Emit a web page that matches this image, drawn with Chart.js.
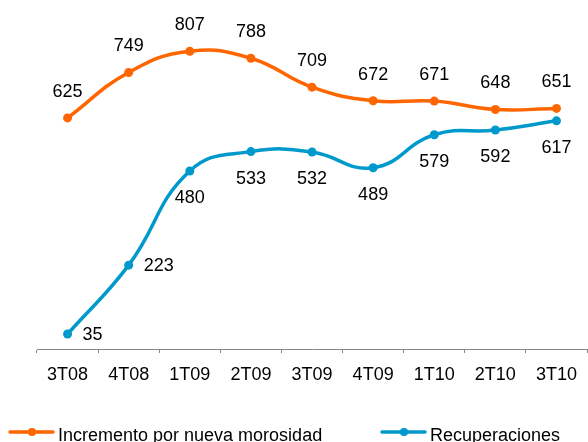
<!DOCTYPE html>
<html>
<head>
<meta charset="utf-8">
<script src="https://cdn.jsdelivr.net/npm/chart.js@4"></script>
<style>
  html, body { margin: 0; padding: 0; background: #fff; }
  #wrap { width: 588px; height: 442px; }
</style>
</head>
<body>
<div id="wrap"><canvas id="grafico" width="588" height="442"></canvas></div>
<script>
// Datos
const trimestres = ['3T08', '4T08', '1T09', '2T09', '3T09', '4T09', '1T10', '2T10', '3T10'];
const incremento = [625, 749, 807, 788, 709, 672, 671, 648, 651];
const recuperaciones = [35, 223, 480, 533, 532, 489, 579, 592, 617];

const NARANJA = '#FF6600';
const AZUL = '#0099CC';
const FUENTE = '"Liberation Sans", Arial, sans-serif';

// Etiquetas de valor sobre / debajo de cada punto
const etiquetasPlugin = {
  id: 'etiquetas',
  afterDatasetsDraw(chart) {
    const ctx = chart.ctx;
    ctx.save();
    ctx.font = '18px ' + FUENTE;
    ctx.fillStyle = '#000';
    chart.data.datasets.forEach((ds, i) => {
      const meta = chart.getDatasetMeta(i);
      meta.data.forEach((pt, j) => {
        const txt = String(ds.data[j]);
        let pos = ds.etiqueta;
        if (i === 1 && j < 2) pos = 'right';
        if (pos === 'above') {
          ctx.textAlign = 'center';
          ctx.textBaseline = 'middle';
          ctx.fillText(txt, pt.x, pt.y - 26);
        } else if (pos === 'below') {
          ctx.textAlign = 'center';
          ctx.textBaseline = 'middle';
          ctx.fillText(txt, pt.x, pt.y + 27);
        } else {
          ctx.textAlign = 'left';
          ctx.textBaseline = 'middle';
          ctx.fillText(txt, pt.x + 15, pt.y + 1);
        }
      });
    });
    ctx.restore();
  }
};

// Leyenda inferior con línea y punto
const leyendaPlugin = {
  id: 'leyenda',
  afterDraw(chart) {
    const ctx = chart.ctx;
    const items = [
      { x: 10, ds: chart.data.datasets[0] },
      { x: 382, ds: chart.data.datasets[1] }
    ];
    const y = 432;
    ctx.save();
    items.forEach(it => {
      ctx.strokeStyle = it.ds.borderColor;
      ctx.lineWidth = 3.5;
      ctx.lineCap = 'round';
      ctx.beginPath();
      ctx.moveTo(it.x, y);
      ctx.lineTo(it.x + 43, y);
      ctx.stroke();
      ctx.fillStyle = it.ds.borderColor;
      ctx.beginPath();
      ctx.arc(it.x + 22, y, 4, 0, Math.PI * 2);
      ctx.fill();
      ctx.fillStyle = '#000';
      ctx.font = '18px ' + FUENTE;
      ctx.textAlign = 'left';
      ctx.textBaseline = 'alphabetic';
      ctx.fillText(it.ds.label, it.x + 48, 441);
    });
    ctx.restore();
  }
};

const config = {
  type: 'line',
  data: {
    labels: trimestres,
    datasets: [
      {
        label: 'Incremento por nueva morosidad',
        data: incremento,
        borderColor: NARANJA,
        backgroundColor: NARANJA,
        borderWidth: 3.5,
        pointBorderWidth: 0,
        pointRadius: 4.5,
        pointHoverRadius: 4.5,
        tension: 0.45,
        etiqueta: 'above',
        clip: false
      },
      {
        label: 'Recuperaciones',
        data: recuperaciones,
        borderColor: AZUL,
        backgroundColor: AZUL,
        borderWidth: 3.5,
        pointBorderWidth: 0,
        pointRadius: 4.5,
        pointHoverRadius: 4.5,
        tension: 0.45,
        etiqueta: 'below',
        clip: false
      }
    ]
  },
  options: {
    responsive: false,
    animation: false,
    layout: { autoPadding: false, padding: { left: 37, right: -2, top: 0, bottom: 0 } },
    scales: {
      x: {
        offset: true,
        grid: {
          offset: true,
          drawOnChartArea: false,
          drawTicks: true,
          tickLength: 4,
          color: '#868686'
        },
        border: { display: true, color: '#868686', width: 1 },
        ticks: {
          color: '#000',
          font: { family: FUENTE, size: 18 },
          padding: 11,
          maxRotation: 0,
          autoSkip: false
        },
        afterFit(scale) { scale.height = 93; }
      },
      y: {
        display: false,
        min: -6,
        max: 947
      }
    },
    plugins: {
      legend: { display: false },
      tooltip: { enabled: false }
    }
  },
  plugins: [etiquetasPlugin, leyendaPlugin]
};

const ctx = document.getElementById('grafico').getContext('2d');
new Chart(ctx, config);
</script>
</body>
</html>
